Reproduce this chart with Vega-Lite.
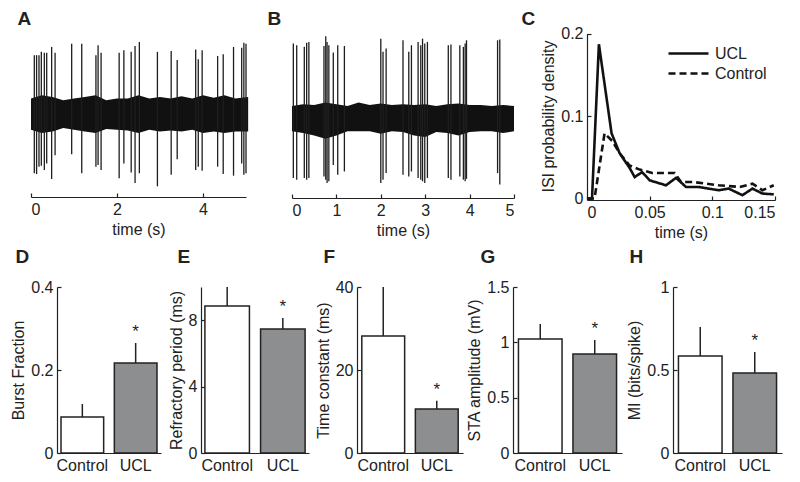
{
  "$schema": "https://vega.github.io/schema/vega-lite/v6.json",
  "width": 800,
  "height": 482,
  "autosize": {"type": "none"},
  "padding": 0,
  "background": "white",
  "config": {
    "font": "Liberation Sans",
    "view": {"stroke": null},
    "axis": {
      "labelFont": "Liberation Sans", "titleFont": "Liberation Sans",
      "labelFontSize": 16, "titleFontSize": 16, "titleFontWeight": "normal",
      "labelColor": "#222", "titleColor": "#222", "domainColor": "#222", "tickColor": "#222",
      "domainWidth": 1.2, "tickWidth": 1.2, "grid": false, "tickSize": -4, "labelPadding": 8, "titlePadding": 4
    },
    "legend": {"labelFont": "Liberation Sans"}
  },
  "resolve": {"scale": {"x": "independent", "y": "independent"}},
  "datasets": {
    "bandA": [
      {"t":0,"hi":0.2,"lo":-0.18},{"t":0.25,"hi":0.24,"lo":-0.22},{"t":0.5,"hi":0.22,"lo":-0.2},{"t":0.75,"hi":0.18,"lo":-0.16},
      {"t":1.0,"hi":0.2,"lo":-0.18},{"t":1.25,"hi":0.22,"lo":-0.2},{"t":1.5,"hi":0.24,"lo":-0.22},{"t":1.75,"hi":0.18,"lo":-0.17},
      {"t":2.0,"hi":0.2,"lo":-0.18},{"t":2.25,"hi":0.2,"lo":-0.19},{"t":2.5,"hi":0.24,"lo":-0.22},{"t":2.75,"hi":0.2,"lo":-0.18},
      {"t":3.0,"hi":0.22,"lo":-0.2},{"t":3.25,"hi":0.2,"lo":-0.19},{"t":3.5,"hi":0.23,"lo":-0.2},{"t":3.75,"hi":0.2,"lo":-0.18},
      {"t":4.0,"hi":0.24,"lo":-0.22},{"t":4.25,"hi":0.21,"lo":-0.2},{"t":4.5,"hi":0.24,"lo":-0.22},{"t":4.75,"hi":0.2,"lo":-0.2},
      {"t":5.05,"hi":0.22,"lo":-0.2}
    ],
    "spikesA": [
      {"t":0.077,"top":0.73,"bot":-0.71},{"t":0.13,"top":0.73,"bot":-0.72},{"t":0.186,"top":0.73,"bot":-0.63},{"t":0.24,"top":0.77,"bot":-0.62},
      {"t":0.31,"top":0.76,"bot":-0.67},{"t":0.365,"top":0.76,"bot":-0.59},{"t":0.48,"top":0.83,"bot":-0.78},{"t":0.56,"top":0.76,"bot":-0.49},
      {"t":0.946,"top":0.87,"bot":-0.48},{"t":1.18,"top":0.87,"bot":-0.71},{"t":1.51,"top":0.73,"bot":-0.63},{"t":1.56,"top":0.85,"bot":-0.61},
      {"t":1.63,"top":0.76,"bot":-0.67},{"t":2.05,"top":0.76,"bot":-0.77},{"t":2.16,"top":0.79,"bot":-0.59},{"t":2.33,"top":0.77,"bot":-0.7},
      {"t":2.42,"top":0.84,"bot":-0.83},{"t":2.52,"top":0.89,"bot":-0.71},{"t":2.94,"top":0.77,"bot":-0.87},{"t":3.26,"top":0.78,"bot":-0.73},
      {"t":3.4,"top":0.67,"bot":-0.54},{"t":3.83,"top":0.8,"bot":-0.67},{"t":3.89,"top":0.68,"bot":-0.63},{"t":3.98,"top":0.79,"bot":-0.68},
      {"t":4.34,"top":0.72,"bot":-0.63},{"t":4.47,"top":0.74,"bot":-0.72},{"t":4.71,"top":0.83,"bot":-0.74},{"t":4.9,"top":0.82,"bot":-0.59},
      {"t":4.95,"top":0.88,"bot":-0.73},{"t":5.0,"top":0.87,"bot":-0.71}
    ],
    "bandB": [
      {"t":0,"hi":0.16,"lo":-0.15},{"t":0.25,"hi":0.18,"lo":-0.17},{"t":0.5,"hi":0.17,"lo":-0.2},{"t":0.75,"hi":0.2,"lo":-0.24},
      {"t":1.0,"hi":0.18,"lo":-0.2},{"t":1.25,"hi":0.16,"lo":-0.15},{"t":1.5,"hi":0.2,"lo":-0.15},{"t":1.75,"hi":0.17,"lo":-0.15},
      {"t":2.0,"hi":0.19,"lo":-0.18},{"t":2.25,"hi":0.17,"lo":-0.15},{"t":2.5,"hi":0.18,"lo":-0.16},{"t":2.75,"hi":0.17,"lo":-0.2},
      {"t":3.0,"hi":0.18,"lo":-0.22},{"t":3.25,"hi":0.16,"lo":-0.16},{"t":3.5,"hi":0.18,"lo":-0.17},{"t":3.75,"hi":0.19,"lo":-0.2},
      {"t":4.0,"hi":0.17,"lo":-0.16},{"t":4.25,"hi":0.17,"lo":-0.15},{"t":4.5,"hi":0.16,"lo":-0.15},{"t":4.75,"hi":0.17,"lo":-0.17},
      {"t":5.0,"hi":0.16,"lo":-0.15}
    ],
    "spikesB": [
      {"t":0.03,"top":0.92,"bot":-0.72},{"t":0.106,"top":0.9,"bot":-0.74},{"t":0.277,"top":0.88,"bot":-0.72},{"t":0.33,"top":0.93,"bot":-0.74},
      {"t":0.38,"top":0.94,"bot":-0.72},{"t":0.72,"top":0.89,"bot":-0.7},{"t":0.76,"top":1.01,"bot":-0.74},{"t":0.79,"top":0.94,"bot":-0.78},
      {"t":0.83,"top":0.9,"bot":-0.76},{"t":0.93,"top":0.81,"bot":-0.56},{"t":1.03,"top":0.9,"bot":-0.68},{"t":1.18,"top":0.89,"bot":-0.64},
      {"t":2.0,"top":0.98,"bot":-0.78},{"t":2.05,"top":0.82,"bot":-0.74},{"t":2.12,"top":0.86,"bot":-0.66},{"t":2.5,"top":0.96,"bot":-0.68},
      {"t":2.63,"top":0.82,"bot":-0.7},{"t":2.69,"top":0.9,"bot":-0.64},{"t":2.84,"top":0.94,"bot":-0.72},{"t":2.9,"top":0.9,"bot":-0.74},
      {"t":2.94,"top":0.98,"bot":-0.76},{"t":2.99,"top":0.92,"bot":-0.78},{"t":3.05,"top":0.94,"bot":-0.72},{"t":3.52,"top":0.9,"bot":-0.72},
      {"t":3.58,"top":0.91,"bot":-0.74},{"t":3.78,"top":0.9,"bot":-0.7},{"t":3.86,"top":0.88,"bot":-0.74},{"t":3.9,"top":0.92,"bot":-0.76},
      {"t":3.93,"top":0.96,"bot":-0.73},{"t":4.63,"top":0.96,"bot":-0.66},{"t":4.68,"top":0.97,"bot":-0.8}
    ],
    "isi": [
      {"t":0,"d":0,"g":"UCL"},{"t":0.004,"d":0,"g":"UCL"},{"t":0.0095,"d":0.187,"g":"UCL"},{"t":0.0196,"d":0.079,"g":"UCL"},
      {"t":0.026,"d":0.055,"g":"UCL"},{"t":0.034,"d":0.037,"g":"UCL"},{"t":0.038,"d":0.026,"g":"UCL"},{"t":0.044,"d":0.032,"g":"UCL"},
      {"t":0.05,"d":0.022,"g":"UCL"},{"t":0.063,"d":0.016,"g":"UCL"},{"t":0.071,"d":0.025,"g":"UCL"},{"t":0.079,"d":0.014,"g":"UCL"},
      {"t":0.089,"d":0.014,"g":"UCL"},{"t":0.105,"d":0.01,"g":"UCL"},{"t":0.113,"d":0.012,"g":"UCL"},{"t":0.124,"d":0.004,"g":"UCL"},
      {"t":0.132,"d":0.012,"g":"UCL"},{"t":0.14,"d":0.006,"g":"UCL"},{"t":0.149,"d":0.005,"g":"UCL"},
      {"t":0,"d":0,"g":"Control"},{"t":0.006,"d":0,"g":"Control"},{"t":0.014,"d":0.079,"g":"Control"},{"t":0.02,"d":0.07,"g":"Control"},
      {"t":0.026,"d":0.055,"g":"Control"},{"t":0.034,"d":0.04,"g":"Control"},{"t":0.042,"d":0.035,"g":"Control"},{"t":0.052,"d":0.031,"g":"Control"},
      {"t":0.07,"d":0.031,"g":"Control"},{"t":0.075,"d":0.02,"g":"Control"},{"t":0.085,"d":0.02,"g":"Control"},{"t":0.095,"d":0.018,"g":"Control"},
      {"t":0.105,"d":0.016,"g":"Control"},{"t":0.122,"d":0.014,"g":"Control"},{"t":0.132,"d":0.018,"g":"Control"},{"t":0.14,"d":0.01,"g":"Control"},
      {"t":0.149,"d":0.016,"g":"Control"}
    ],
    "bars": [
      {"panel":"D","group":"Control","mean":0.0867,"upper":0.118},{"panel":"D","group":"UCL","mean":0.217,"upper":0.265},
      {"panel":"E","group":"Control","mean":8.86,"upper":10.0},{"panel":"E","group":"UCL","mean":7.47,"upper":8.13},
      {"panel":"F","group":"Control","mean":28.2,"upper":40},{"panel":"F","group":"UCL","mean":10.6,"upper":12.6},
      {"panel":"G","group":"Control","mean":1.03,"upper":1.165},{"panel":"G","group":"UCL","mean":0.894,"upper":1.02},
      {"panel":"H","group":"Control","mean":0.584,"upper":0.759},{"panel":"H","group":"UCL","mean":0.482,"upper":0.608}
    ]
  },
  "layer": [
    {
      "data": {"name": "bandA"},
      "mark": {"type": "area", "color": "#111"},
      "encoding": {
        "x": {"field": "t", "type": "quantitative", "scale": {"domain": [0, 5], "range": [31, 246], "nice": false, "zero": false},
              "axis": {"orient": "bottom", "offset": -285, "values": [0, 2, 4], "title": "time (s)", "labelExpr": "'' + datum.value"}},
        "y": {"field": "hi", "type": "quantitative", "scale": {"domain": [-1, 1], "range": [197, 33], "nice": false, "zero": false}, "axis": null},
        "y2": {"field": "lo"}
      }
    },
    {
      "data": {"name": "spikesA"},
      "mark": {"type": "rule", "color": "#1e1e1e", "strokeWidth": 1.3},
      "encoding": {
        "x": {"field": "t", "type": "quantitative", "scale": {"domain": [0, 5], "range": [31, 246], "nice": false, "zero": false},
              "axis": {"orient": "top", "offset": 0, "domain": false, "ticks": false, "labels": false, "title": "A", "titleX": 17, "titleY": 24, "titleAlign": "left", "titleBaseline": "alphabetic", "titleAngle": 0, "titleFontSize": 19, "titleFontWeight": "bold"}},
        "y": {"field": "top", "type": "quantitative", "scale": {"domain": [-1, 1], "range": [197, 33], "nice": false, "zero": false}, "axis": null},
        "y2": {"field": "bot"}
      }
    },
    {
      "data": {"name": "bandB"},
      "mark": {"type": "area", "color": "#111"},
      "encoding": {
        "x": {"field": "t", "type": "quantitative", "scale": {"domain": [0, 5], "range": [292, 514], "nice": false, "zero": false},
              "axis": {"orient": "bottom", "offset": -284, "values": [0, 1, 2, 3, 4, 5], "title": "time (s)", "labelExpr": "'' + datum.value"}},
        "y": {"field": "hi", "type": "quantitative", "scale": {"domain": [-1, 1], "range": [201, 37], "nice": false, "zero": false}, "axis": null},
        "y2": {"field": "lo"}
      }
    },
    {
      "data": {"name": "spikesB"},
      "mark": {"type": "rule", "color": "#1e1e1e", "strokeWidth": 1.3},
      "encoding": {
        "x": {"field": "t", "type": "quantitative", "scale": {"domain": [0, 5], "range": [292, 514], "nice": false, "zero": false},
              "axis": {"orient": "top", "offset": 0, "domain": false, "ticks": false, "labels": false, "title": "B", "titleX": 267, "titleY": 24, "titleAlign": "left", "titleBaseline": "alphabetic", "titleAngle": 0, "titleFontSize": 19, "titleFontWeight": "bold"}},
        "y": {"field": "top", "type": "quantitative", "scale": {"domain": [-1, 1], "range": [201, 37], "nice": false, "zero": false}, "axis": null},
        "y2": {"field": "bot"}
      }
    },
    {
      "data": {"name": "isi"},
      "transform": [{"filter": "datum.g === 'UCL'"}],
      "mark": {"type": "line", "color": "#111", "strokeWidth": 2.6},
      "encoding": {
        "x": {"field": "t", "type": "quantitative", "scale": {"domain": [0, 0.15], "range": [587, 775], "nice": false, "zero": false},
              "axis": {"orient": "bottom", "offset": -282, "values": [0, 0.05, 0.1, 0.15], "title": "time (s)", "labelExpr": "'' + datum.value"}},
        "y": {"field": "d", "type": "quantitative", "scale": {"domain": [0, 0.2], "range": [198.5, 33.5], "nice": false, "zero": false},
              "axis": {"orient": "left", "offset": -587, "values": [0, 0.1, 0.2], "title": "ISI probability density", "labelExpr": "'' + datum.value"}},
        "strokeDash": {"field": "g", "type": "nominal", "scale": {"domain": ["UCL", "Control"], "range": [[1, 0], [7, 4]]},
                       "legend": {"orient": "none", "legendX": 677, "legendY": 42, "title": null, "symbolType": "M-2,0H2", "symbolSize": 400, "symbolStrokeWidth": 2.6, "symbolStrokeColor": "#111", "symbolFillColor": "transparent", "labelFontSize": 16, "labelColor": "#222", "rowPadding": 0, "labelOffset": 15, "padding": 0}}
      }
    },
    {
      "data": {"name": "isi"},
      "transform": [{"filter": "datum.g === 'Control'"}],
      "mark": {"type": "line", "color": "#111", "strokeWidth": 2.6},
      "encoding": {
        "x": {"field": "t", "type": "quantitative", "scale": {"domain": [0, 0.15], "range": [587, 775], "nice": false, "zero": false},
              "axis": {"orient": "top", "offset": 0, "domain": false, "ticks": false, "labels": false, "title": "C", "titleX": 521, "titleY": 24, "titleAlign": "left", "titleBaseline": "alphabetic", "titleAngle": 0, "titleFontSize": 19, "titleFontWeight": "bold"}},
        "y": {"field": "d", "type": "quantitative", "scale": {"domain": [0, 0.2], "range": [198.5, 33.5], "nice": false, "zero": false}, "axis": null},
        "strokeDash": {"field": "g", "type": "nominal", "scale": {"domain": ["UCL", "Control"], "range": [[1, 0], [7, 4]]}}
      }
    },

    {
      "data": {"name": "bars"}, "transform": [{"filter": "datum.panel === 'D'"}],
      "mark": {"type": "bar", "stroke": "#222", "strokeWidth": 1.5},
      "encoding": {
        "x": {"field": "group", "type": "nominal", "scale": {"type": "band", "domain": ["Control", "UCL"], "range": [57, 161], "paddingInner": 0.2, "paddingOuter": 0.075},
              "axis": {"orient": "bottom", "offset": -29, "labelAngle": 0, "title": null}},
        "y": {"field": "mean", "type": "quantitative", "scale": {"domain": [0, 0.4], "range": [453, 287], "nice": false, "zero": false},
              "axis": {"orient": "left", "offset": -57, "values": [0, 0.2, 0.4], "title": "Burst Fraction", "labelExpr": "'' + datum.value"}},
        "fill": {"field": "group", "type": "nominal", "scale": {"domain": ["Control", "UCL"], "range": ["#ffffff", "#8d8e90"]}, "legend": null}
      }
    },
    {
      "data": {"name": "bars"}, "transform": [{"filter": "datum.panel === 'D'"}],
      "mark": {"type": "rule", "color": "#222", "strokeWidth": 1.5},
      "encoding": {
        "x": {"field": "group", "type": "nominal", "scale": {"type": "band", "domain": ["Control", "UCL"], "range": [57, 161], "paddingInner": 0.2, "paddingOuter": 0.075},
              "axis": {"orient": "top", "offset": 0, "domain": false, "ticks": false, "labels": false, "title": "D", "titleX": 15, "titleY": 262, "titleAlign": "left", "titleBaseline": "alphabetic", "titleAngle": 0, "titleFontSize": 19, "titleFontWeight": "bold"}},
        "y": {"field": "mean", "type": "quantitative", "scale": {"domain": [0, 0.4], "range": [453, 287], "nice": false, "zero": false}, "axis": null},
        "y2": {"field": "upper"}
      }
    },
    {
      "data": {"name": "bars"}, "transform": [{"filter": "datum.panel === 'D' && datum.group === 'UCL'"}],
      "mark": {"type": "text", "text": "*", "fontSize": 17, "baseline": "alphabetic", "dy": -6, "color": "#222"},
      "encoding": {
        "x": {"field": "group", "type": "nominal", "scale": {"type": "band", "domain": ["Control", "UCL"], "range": [57, 161], "paddingInner": 0.2, "paddingOuter": 0.075}, "axis": null},
        "y": {"field": "upper", "type": "quantitative", "scale": {"domain": [0, 0.4], "range": [453, 287], "nice": false, "zero": false}, "axis": null}
      }
    },

    {
      "data": {"name": "bars"}, "transform": [{"filter": "datum.panel === 'E'"}],
      "mark": {"type": "bar", "stroke": "#222", "strokeWidth": 1.5},
      "encoding": {
        "x": {"field": "group", "type": "nominal", "scale": {"type": "band", "domain": ["Control", "UCL"], "range": [201, 309], "paddingInner": 0.2, "paddingOuter": 0.07},
              "axis": {"orient": "bottom", "offset": -29, "labelAngle": 0, "title": null}},
        "y": {"field": "mean", "type": "quantitative", "scale": {"domain": [0, 10], "range": [453, 287], "nice": false, "zero": false},
              "axis": {"orient": "left", "offset": -201, "values": [0, 4, 8], "title": "Refractory period (ms)", "labelExpr": "'' + datum.value"}},
        "fill": {"field": "group", "type": "nominal", "scale": {"domain": ["Control", "UCL"], "range": ["#ffffff", "#8d8e90"]}, "legend": null}
      }
    },
    {
      "data": {"name": "bars"}, "transform": [{"filter": "datum.panel === 'E'"}],
      "mark": {"type": "rule", "color": "#222", "strokeWidth": 1.5},
      "encoding": {
        "x": {"field": "group", "type": "nominal", "scale": {"type": "band", "domain": ["Control", "UCL"], "range": [201, 309], "paddingInner": 0.2, "paddingOuter": 0.07},
              "axis": {"orient": "top", "offset": 0, "domain": false, "ticks": false, "labels": false, "title": "E", "titleX": 177, "titleY": 262, "titleAlign": "left", "titleBaseline": "alphabetic", "titleAngle": 0, "titleFontSize": 19, "titleFontWeight": "bold"}},
        "y": {"field": "mean", "type": "quantitative", "scale": {"domain": [0, 10], "range": [453, 287], "nice": false, "zero": false}, "axis": null},
        "y2": {"field": "upper"}
      }
    },
    {
      "data": {"name": "bars"}, "transform": [{"filter": "datum.panel === 'E' && datum.group === 'UCL'"}],
      "mark": {"type": "text", "text": "*", "fontSize": 17, "baseline": "alphabetic", "dy": -6, "color": "#222"},
      "encoding": {
        "x": {"field": "group", "type": "nominal", "scale": {"type": "band", "domain": ["Control", "UCL"], "range": [201, 309], "paddingInner": 0.2, "paddingOuter": 0.07}, "axis": null},
        "y": {"field": "upper", "type": "quantitative", "scale": {"domain": [0, 10], "range": [453, 287], "nice": false, "zero": false}, "axis": null}
      }
    },

    {
      "data": {"name": "bars"}, "transform": [{"filter": "datum.panel === 'F'"}],
      "mark": {"type": "bar", "stroke": "#222", "strokeWidth": 1.5},
      "encoding": {
        "x": {"field": "group", "type": "nominal", "scale": {"type": "band", "domain": ["Control", "UCL"], "range": [357, 463], "paddingInner": 0.2, "paddingOuter": 0.09},
              "axis": {"orient": "bottom", "offset": -29, "labelAngle": 0, "title": null}},
        "y": {"field": "mean", "type": "quantitative", "scale": {"domain": [0, 40], "range": [453, 287], "nice": false, "zero": false},
              "axis": {"orient": "left", "offset": -357, "values": [0, 20, 40], "title": "Time constant (ms)", "labelExpr": "'' + datum.value"}},
        "fill": {"field": "group", "type": "nominal", "scale": {"domain": ["Control", "UCL"], "range": ["#ffffff", "#8d8e90"]}, "legend": null}
      }
    },
    {
      "data": {"name": "bars"}, "transform": [{"filter": "datum.panel === 'F'"}],
      "mark": {"type": "rule", "color": "#222", "strokeWidth": 1.5},
      "encoding": {
        "x": {"field": "group", "type": "nominal", "scale": {"type": "band", "domain": ["Control", "UCL"], "range": [357, 463], "paddingInner": 0.2, "paddingOuter": 0.09},
              "axis": {"orient": "top", "offset": 0, "domain": false, "ticks": false, "labels": false, "title": "F", "titleX": 323, "titleY": 262, "titleAlign": "left", "titleBaseline": "alphabetic", "titleAngle": 0, "titleFontSize": 19, "titleFontWeight": "bold"}},
        "y": {"field": "mean", "type": "quantitative", "scale": {"domain": [0, 40], "range": [453, 287], "nice": false, "zero": false}, "axis": null},
        "y2": {"field": "upper"}
      }
    },
    {
      "data": {"name": "bars"}, "transform": [{"filter": "datum.panel === 'F' && datum.group === 'UCL'"}],
      "mark": {"type": "text", "text": "*", "fontSize": 17, "baseline": "alphabetic", "dy": -6, "color": "#222"},
      "encoding": {
        "x": {"field": "group", "type": "nominal", "scale": {"type": "band", "domain": ["Control", "UCL"], "range": [357, 463], "paddingInner": 0.2, "paddingOuter": 0.09}, "axis": null},
        "y": {"field": "upper", "type": "quantitative", "scale": {"domain": [0, 40], "range": [453, 287], "nice": false, "zero": false}, "axis": null}
      }
    },

    {
      "data": {"name": "bars"}, "transform": [{"filter": "datum.panel === 'G'"}],
      "mark": {"type": "bar", "stroke": "#222", "strokeWidth": 1.5},
      "encoding": {
        "x": {"field": "group", "type": "nominal", "scale": {"type": "band", "domain": ["Control", "UCL"], "range": [513, 622], "paddingInner": 0.2, "paddingOuter": 0.1},
              "axis": {"orient": "bottom", "offset": -29, "labelAngle": 0, "title": null}},
        "y": {"field": "mean", "type": "quantitative", "scale": {"domain": [0, 1.5], "range": [453, 287], "nice": false, "zero": false},
              "axis": {"orient": "left", "offset": -513, "values": [0, 0.5, 1, 1.5], "title": "STA amplitude (mV)", "labelExpr": "'' + datum.value"}},
        "fill": {"field": "group", "type": "nominal", "scale": {"domain": ["Control", "UCL"], "range": ["#ffffff", "#8d8e90"]}, "legend": null}
      }
    },
    {
      "data": {"name": "bars"}, "transform": [{"filter": "datum.panel === 'G'"}],
      "mark": {"type": "rule", "color": "#222", "strokeWidth": 1.5},
      "encoding": {
        "x": {"field": "group", "type": "nominal", "scale": {"type": "band", "domain": ["Control", "UCL"], "range": [513, 622], "paddingInner": 0.2, "paddingOuter": 0.1},
              "axis": {"orient": "top", "offset": 0, "domain": false, "ticks": false, "labels": false, "title": "G", "titleX": 480, "titleY": 262, "titleAlign": "left", "titleBaseline": "alphabetic", "titleAngle": 0, "titleFontSize": 19, "titleFontWeight": "bold"}},
        "y": {"field": "mean", "type": "quantitative", "scale": {"domain": [0, 1.5], "range": [453, 287], "nice": false, "zero": false}, "axis": null},
        "y2": {"field": "upper"}
      }
    },
    {
      "data": {"name": "bars"}, "transform": [{"filter": "datum.panel === 'G' && datum.group === 'UCL'"}],
      "mark": {"type": "text", "text": "*", "fontSize": 17, "baseline": "alphabetic", "dy": -6, "color": "#222"},
      "encoding": {
        "x": {"field": "group", "type": "nominal", "scale": {"type": "band", "domain": ["Control", "UCL"], "range": [513, 622], "paddingInner": 0.2, "paddingOuter": 0.1}, "axis": null},
        "y": {"field": "upper", "type": "quantitative", "scale": {"domain": [0, 1.5], "range": [453, 287], "nice": false, "zero": false}, "axis": null}
      }
    },

    {
      "data": {"name": "bars"}, "transform": [{"filter": "datum.panel === 'H'"}],
      "mark": {"type": "bar", "stroke": "#222", "strokeWidth": 1.5},
      "encoding": {
        "x": {"field": "group", "type": "nominal", "scale": {"type": "band", "domain": ["Control", "UCL"], "range": [673, 782], "paddingInner": 0.2, "paddingOuter": 0.1},
              "axis": {"orient": "bottom", "offset": -29, "labelAngle": 0, "title": null}},
        "y": {"field": "mean", "type": "quantitative", "scale": {"domain": [0, 1], "range": [453, 287], "nice": false, "zero": false},
              "axis": {"orient": "left", "offset": -673, "values": [0, 0.5, 1], "title": "MI (bits/spike)", "labelExpr": "'' + datum.value"}},
        "fill": {"field": "group", "type": "nominal", "scale": {"domain": ["Control", "UCL"], "range": ["#ffffff", "#8d8e90"]}, "legend": null}
      }
    },
    {
      "data": {"name": "bars"}, "transform": [{"filter": "datum.panel === 'H'"}],
      "mark": {"type": "rule", "color": "#222", "strokeWidth": 1.5},
      "encoding": {
        "x": {"field": "group", "type": "nominal", "scale": {"type": "band", "domain": ["Control", "UCL"], "range": [673, 782], "paddingInner": 0.2, "paddingOuter": 0.1},
              "axis": {"orient": "top", "offset": 0, "domain": false, "ticks": false, "labels": false, "title": "H", "titleX": 629, "titleY": 262, "titleAlign": "left", "titleBaseline": "alphabetic", "titleAngle": 0, "titleFontSize": 19, "titleFontWeight": "bold"}},
        "y": {"field": "mean", "type": "quantitative", "scale": {"domain": [0, 1], "range": [453, 287], "nice": false, "zero": false}, "axis": null},
        "y2": {"field": "upper"}
      }
    },
    {
      "data": {"name": "bars"}, "transform": [{"filter": "datum.panel === 'H' && datum.group === 'UCL'"}],
      "mark": {"type": "text", "text": "*", "fontSize": 17, "baseline": "alphabetic", "dy": -6, "color": "#222"},
      "encoding": {
        "x": {"field": "group", "type": "nominal", "scale": {"type": "band", "domain": ["Control", "UCL"], "range": [673, 782], "paddingInner": 0.2, "paddingOuter": 0.1}, "axis": null},
        "y": {"field": "upper", "type": "quantitative", "scale": {"domain": [0, 1], "range": [453, 287], "nice": false, "zero": false}, "axis": null}
      }
    }
  ]
}
